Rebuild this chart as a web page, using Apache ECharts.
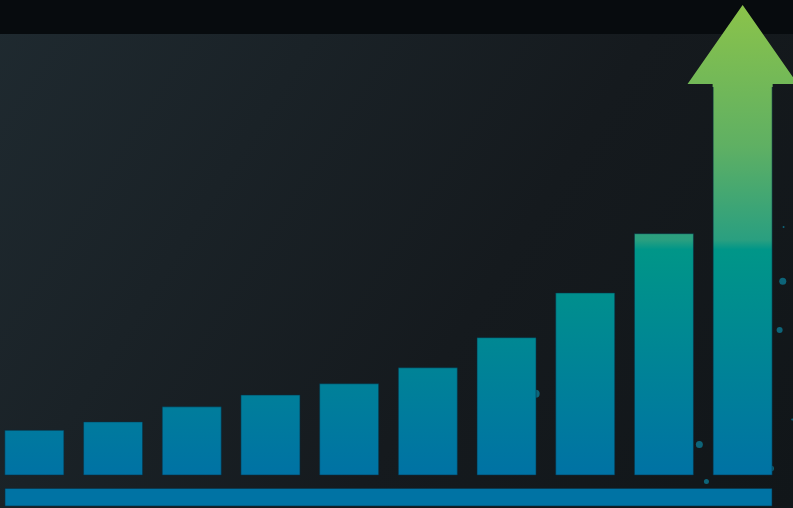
<!DOCTYPE html>
<html>
<head>
<meta charset="utf-8">
<script src="https://cdn.jsdelivr.net/npm/echarts@6/dist/echarts.min.js"></script>
<style>
  html, body { margin: 0; padding: 0; background: #13181c; }
  #main { width: 793px; height: 508px; }
</style>
</head>
<body>
<div id="main"></div>
<script>
// growth steps, last one is the arrow shaft
const categories = ["1", "2", "3", "4", "5", "6", "7", "8", "9", "10"]
const barValues = [9.7, 11.5, 14.7, 17.2, 19.6, 23.0, 29.4, 38.9, 51.5, 83.2]
// arrow head: [step index, base value, tip value]
const arrowHead = [[9, 83.2, 100]]
// little floating dots: [x index, y value, size]
const dots = [
  [6.37, 17.4, 8],
  [8.45, 6.6, 7],
  [8.54, -1.3, 5],
  [9.51, 41.3, 7],
  [9.47, 30.9, 6],
  [9.36, 1.5, 6],
  [9.52, 52.8, 2],
  [9.63, 11.9, 2]
]

const chartDom = document.getElementById("main")
const myChart = echarts.init(chartDom)

const fillGrad = new echarts.graphic.LinearGradient(0, 5, 0, 475, [
  { offset: 0, color: "#8bc34a" },
  { offset: 0.3, color: "#5fb063" },
  { offset: 0.5, color: "#2a9f80" },
  { offset: 0.52, color: "#009688" },
  { offset: 1, color: "#0072a4" }
], true)

const barData = categories.map(function (c, i) { return [i, barValues[i]] })

const option = {
  backgroundColor: new echarts.graphic.LinearGradient(0, 0, 1, 1, [
    { offset: 0, color: "#1f2a30" },
    { offset: 0.6, color: "#151a1e" },
    { offset: 1, color: "#111619" }
  ]),
  animation: false,
  grid: { left: 0, right: 0, top: 5, bottom: 32.5 },
  graphic: [
    {
      type: "rect",
      z: -10,
      shape: { x: 0, y: 0, width: 793, height: 34 },
      style: { fill: "#070b0e" }
    },
    {
      type: "rect",
      z: 5,
      shape: { x: 5, y: 488.5, width: 767, height: 17.5 },
      style: { fill: "#0073a4", stroke: "rgba(8,50,70,0.6)", lineWidth: 1 }
    }
  ],
  xAxis: {
    type: "value",
    min: -0.4365,
    max: 9.64,
    show: false
  },
  yAxis: {
    type: "value",
    min: 0,
    max: 100,
    show: false
  },
  series: [
    {
      type: "scatter",
      clip: false,
      z: 1,
      symbolSize: function (v) { return v[2] },
      itemStyle: { color: "#0d7891" },
      data: dots
    },
    {
      type: "bar",
      barWidth: 60,
      z: 2,
      itemStyle: {
        color: fillGrad,
        borderColor: "rgba(8,50,70,0.55)",
        borderWidth: 1
      },
      data: barData
    },
    {
      type: "custom",
      z: 3,
      clip: false,
      renderItem: function (params, api) {
        const base = api.coord([api.value(0), api.value(1)])
        const tip = api.coord([api.value(0), api.value(2)])
        const band = api.size([1, 0])[0]
        const half = band * 0.7
        const shaft = 30
        return {
          type: "polygon",
          shape: {
            points: [
              [base[0] - half, base[1]],
              [tip[0], tip[1]],
              [base[0] + half, base[1]],
              [base[0] + shaft, base[1]],
              [base[0] + shaft, base[1] + 3],
              [base[0] - shaft, base[1] + 3],
              [base[0] - shaft, base[1]]
            ]
          },
          style: { fill: fillGrad }
        }
      },
      data: arrowHead
    }
  ]
}

option && myChart.setOption(option)
</script>
</body>
</html>
